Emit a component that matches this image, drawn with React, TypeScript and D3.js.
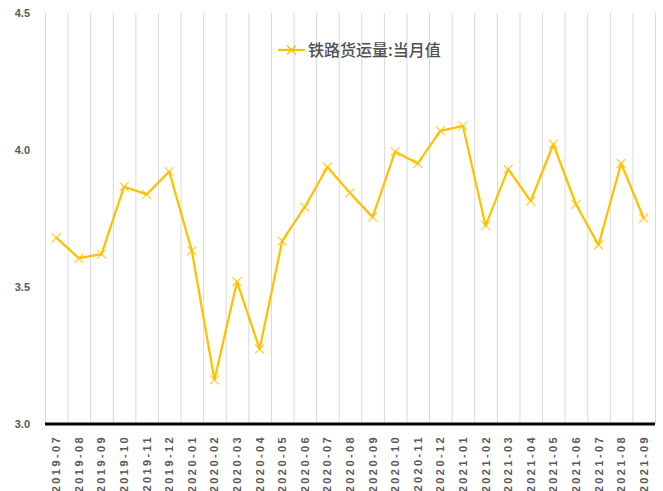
import React, { useEffect, useRef } from "react";
import * as d3 from "d3";

const months = [
  "2019-07", "2019-08", "2019-09", "2019-10", "2019-11", "2019-12",
  "2020-01", "2020-02", "2020-03", "2020-04", "2020-05", "2020-06",
  "2020-07", "2020-08", "2020-09", "2020-10", "2020-11", "2020-12",
  "2021-01", "2021-02", "2021-03", "2021-04", "2021-05", "2021-06",
  "2021-07", "2021-08", "2021-09",
];
const freight = [
  3.68, 3.605, 3.62, 3.866, 3.838, 3.921,
  3.632, 3.161, 3.519, 3.274, 3.668, 3.792,
  3.938, 3.843, 3.755, 3.994, 3.951, 4.07,
  4.088, 3.724, 3.93, 3.814, 4.021, 3.802,
  3.653, 3.951, 3.751,
];
const yTicks = [3.0, 3.5, 4.0, 4.5];
const seriesName = "铁路货运量:当月值";

const App = () => {
  const ref = useRef<SVGSVGElement>(null);
  const width = 663;
  const height = 491;

  useEffect(() => {
    const svg = d3.select(ref.current);
    svg.selectAll("*").remove();

    const left = 45, right = 655, top = 13, bottom = 424;
    const gold = "#FFC000";
    const font = "'Liberation Sans', Arial, sans-serif";

    const x = d3.scaleBand().domain(months).range([left, right]).padding(0);
    const y = d3.scaleLinear().domain([3, 4.5]).range([bottom, top]);

    // vertical grid lines at category boundaries
    const bounds = months.map(m => x(m) as number).concat([right]);
    svg.append("g")
      .selectAll("line")
      .data(bounds)
      .enter()
      .append("line")
      .attr("x1", d => d + 0.5)
      .attr("x2", d => d + 0.5)
      .attr("y1", top)
      .attr("y2", bottom)
      .attr("stroke", "#d9d9d9")
      .attr("stroke-width", 1);

    // x axis line
    svg.append("line")
      .attr("x1", left)
      .attr("x2", right)
      .attr("y1", bottom)
      .attr("y2", bottom)
      .attr("stroke", "#000")
      .attr("stroke-width", 3);

    // y labels
    svg.append("g")
      .selectAll("text")
      .data(yTicks)
      .enter()
      .append("text")
      .attr("x", 30)
      .attr("y", d => y(d))
      .attr("dy", "0.35em")
      .attr("text-anchor", "end")
      .attr("font-family", font)
      .attr("font-weight", "bold")
      .attr("font-size", 11)
      .attr("fill", "#595959")
      .text(d => d.toFixed(1));

    // x labels
    svg.append("g")
      .selectAll("text")
      .data(months)
      .enter()
      .append("text")
      .attr("transform", d => `translate(${(x(d) as number) + x.bandwidth() / 2 + 4},${bottom + 11}) rotate(-90)`)
      .attr("text-anchor", "end")
      .attr("font-family", font)
      .attr("font-weight", "bold")
      .attr("font-size", 11)
      .attr("letter-spacing", 2.4)
      .attr("fill", "#595959")
      .text(d => d);

    const cx = (i: number) => (x(months[i]) as number) + x.bandwidth() / 2;

    const line = d3.line<number>()
      .x((d, i) => cx(i))
      .y(d => y(d));

    svg.append("path")
      .datum(freight)
      .attr("d", line)
      .attr("fill", "none")
      .attr("stroke", gold)
      .attr("stroke-width", 2.25)
      .attr("stroke-linejoin", "round");

    const m = 4.5;
    svg.append("g")
      .selectAll("path")
      .data(freight)
      .enter()
      .append("path")
      .attr("d", (d, i) => {
        const px = cx(i), py = y(d);
        return `M${px - m},${py - m}L${px + m},${py + m}M${px - m},${py + m}L${px + m},${py - m}`;
      })
      .attr("stroke", gold)
      .attr("stroke-opacity", 0.75)
      .attr("stroke-width", 1.3)
      .attr("fill", "none");

    // legend
    const lg = svg.append("g").attr("transform", "translate(278,50)");
    lg.append("line")
      .attr("x1", 0).attr("x2", 27)
      .attr("y1", 0).attr("y2", 0)
      .attr("stroke", gold).attr("stroke-width", 2.25);
    lg.append("path")
      .attr("d", `M${13.5 - m},${-m}L${13.5 + m},${m}M${13.5 - m},${m}L${13.5 + m},${-m}`)
      .attr("stroke", gold).attr("stroke-width", 1.3).attr("fill", "none");
    lg.append("text")
      .attr("x", 30)
      .attr("y", 0)
      .attr("dy", "0.35em")
      .attr("font-family", "'Noto Sans CJK SC', sans-serif")
      .attr("font-weight", 500)
      .attr("font-size", 16)
      .attr("fill", "#505050")
      .text(seriesName);
  }, []);

  return (
    <svg ref={ref} width={width} height={height} style={{ position: "absolute", left: 0, top: 0, background: "#fff" }} />
  );
};

export default App;
